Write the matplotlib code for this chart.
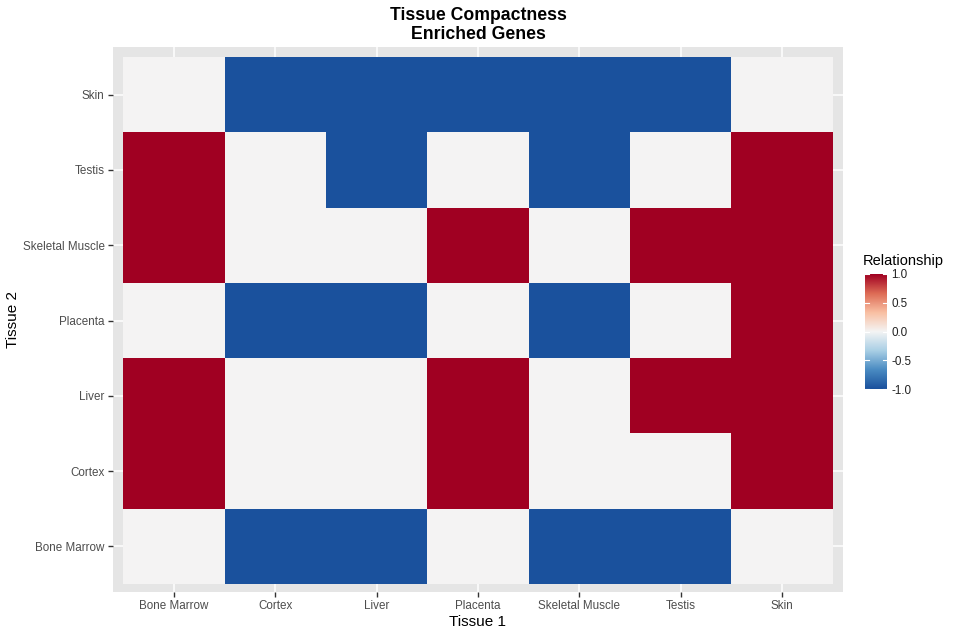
import matplotlib
matplotlib.use("Agg")
import matplotlib.pyplot as plt
import numpy as np
from matplotlib.colors import LinearSegmentedColormap, Normalize

plt.rcParams['font.family'] = ['Liberation Sans', 'DejaVu Sans']

tissue1 = ["Bone Marrow", "Cortex", "Liver", "Placenta", "Skeletal Muscle", "Testis", "Skin"]
tissue2 = ["Bone Marrow", "Cortex", "Liver", "Placenta", "Skeletal Muscle", "Testis", "Skin"]

# rows follow tissue2 (bottom to top), columns follow tissue1
row_bone_marrow = [0, -1, -1, 0, -1, -1, 0]
row_cortex = [1, 0, 0, 1, 0, 0, 1]
row_liver = [1, 0, 0, 1, 0, 1, 1]
row_placenta = [0, -1, -1, 0, -1, 0, 1]
row_skeletal_muscle = [1, 0, 0, 1, 0, 1, 1]
row_testis = [1, 0, -1, 0, -1, 0, 1]
row_skin = [0, -1, -1, -1, -1, -1, 0]

values = np.array([row_bone_marrow, row_cortex, row_liver, row_placenta,
                   row_skeletal_muscle, row_testis, row_skin], dtype=float)

cmap = LinearSegmentedColormap.from_list(
    "rdbu_like",
    ["#1A519D", "#4A8BC2", "#A9CFE5", "#F4F4F4", "#F9BFA2", "#DD6B55", "#A00022"])
norm = Normalize(-1, 1)

fig = plt.figure(figsize=(9.6, 6.35), dpi=100)
ax = fig.add_axes([113/960, 1-592/635, (843-113)/960, (592-47)/635])
ax.set_facecolor("#E5E5E5")

nx, ny = len(tissue1), len(tissue2)
xe = np.arange(nx + 1) - 0.5
ye = np.arange(ny + 1) - 0.5
ax.set_axisbelow(True)
ax.grid(True, color="white", linewidth=1.1, zorder=0)
ax.pcolormesh(xe, ye, values, cmap=cmap, norm=norm, zorder=2)

ax.set_xlim(-0.6, nx - 0.4)
ax.set_ylim(-0.606, ny - 0.5 + 0.133)
ax.set_xticks(range(nx))
ax.set_xticklabels(tissue1)
ax.set_yticks(range(ny))
ax.set_yticklabels(tissue2)
ax.tick_params(axis="both", colors="#333333", length=3.5, width=1, labelsize=8.4,
               labelcolor="#4D4D4D", pad=2.5)
for s in ax.spines.values():
    s.set_visible(False)

ax.set_xlabel("Tissue 1", fontsize=11, labelpad=2)
ax.set_ylabel("Tissue 2", fontsize=11, labelpad=2)
ax.yaxis.set_label_coords(-(113-20)/730, 0.5)
fig.text(478/960, 1-25/635, "Tissue Compactness\nEnriched Genes", ha="center", va="center",
         fontsize=12.7, fontweight="bold", linespacing=1.12)

# colorbar
cax = fig.add_axes([865/960, 1-389/635, 22/960, (389-274)/635])
grad = np.linspace(-1, 1, 256).reshape(-1, 1)
cax.imshow(grad, aspect="auto", cmap=cmap, norm=norm, origin="lower", extent=[0, 1, -1, 1])
cax.set_xlim(0, 1)
cax.set_ylim(-1, 1)
cax.set_xticks([])
cax.yaxis.tick_right()
cax.set_yticks([-1, -0.5, 0, 0.5, 1])
cax.set_yticklabels(["-1.0", "-0.5", "0.0", "0.5", "1.0"])
cax.tick_params(axis="y", length=0, labelsize=8.4, labelcolor="#222222", pad=3)
for t in [-1, -0.5, 0, 0.5, 1]:
    cax.plot([0, 0.2], [t, t], color="white", lw=0.8)
    cax.plot([0.8, 1], [t, t], color="white", lw=0.8)
for s in cax.spines.values():
    s.set_visible(False)
fig.text(863/960, 1-261/635, "Relationship", ha="left", va="center", fontsize=10.5)

fig.savefig("out.png", dpi=100)
